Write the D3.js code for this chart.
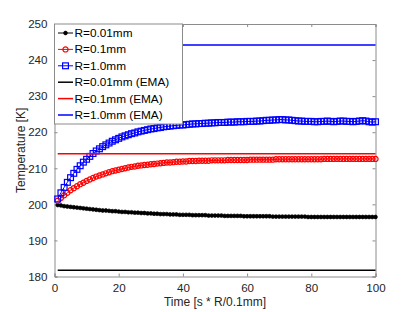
<!DOCTYPE html>
<html>
<head>
<meta charset="utf-8">
<script src="https://cdn.jsdelivr.net/npm/d3@7"></script>
<style>
  body { margin: 0; background: #fff; }
  svg { display: block; font-family: "Liberation Sans", Arial, sans-serif; }
</style>
</head>
<body>
<svg></svg>
<script>
// time steps 1..100
var time = d3.range(1, 101);

var small = [
  199.8,199.7,199.5,199.4,199.3,199.2,199.1,199.0,198.9,198.8,
  198.7,198.6,198.5,198.4,198.3,198.3,198.2,198.1,198.1,198.0,
  197.9,197.9,197.8,197.8,197.7,197.7,197.6,197.6,197.5,197.5,
  197.4,197.4,197.3,197.3,197.3,197.2,197.2,197.2,197.1,197.1,
  197.1,197.1,197.0,197.0,197.0,197.0,197.0,196.9,196.9,196.9,
  196.9,196.9,196.8,196.8,196.8,196.8,196.8,196.8,196.7,196.7,
  196.7,196.7,196.7,196.7,196.7,196.7,196.7,196.6,196.6,196.6,
  196.6,196.6,196.6,196.6,196.6,196.6,196.6,196.6,196.5,196.5,
  196.5,196.5,196.5,196.5,196.5,196.5,196.5,196.5,196.5,196.5,
  196.5,196.5,196.5,196.5,196.5,196.5,196.5,196.5,196.5,196.5
];

var medium = [
  201.0,201.8,202.5,203.2,203.9,204.5,205.0,205.6,206.0,206.5,
  206.9,207.3,207.7,208.0,208.3,208.6,208.9,209.2,209.4,209.6,
  209.8,210.0,210.2,210.4,210.5,210.7,210.8,210.9,211.0,211.1,
  211.2,211.3,211.4,211.5,211.6,211.6,211.7,211.8,211.8,211.9,
  211.9,212.0,212.0,212.0,212.1,212.1,212.1,212.1,212.2,212.2,
  212.2,212.2,212.2,212.3,212.3,212.3,212.3,212.3,212.3,212.3,
  212.4,212.4,212.4,212.4,212.4,212.4,212.4,212.4,212.5,212.5,
  212.5,212.5,212.5,212.5,212.5,212.5,212.5,212.5,212.5,212.5,
  212.5,212.5,212.5,212.6,212.6,212.6,212.6,212.6,212.6,212.6,
  212.6,212.6,212.6,212.6,212.6,212.6,212.6,212.6,212.6,212.6
];

var large = [
  201.5,203.2,204.7,206.1,207.4,208.6,209.7,210.7,211.7,212.5,
  213.3,214.1,214.8,215.4,216.0,216.5,217.0,217.5,217.9,218.3,
  218.7,219.0,219.3,219.6,219.8,220.1,220.3,220.5,220.7,220.9,
  221.0,221.2,221.3,221.5,221.6,221.7,221.8,221.9,222.0,222.0,
  222.1,222.2,222.3,222.3,222.4,222.4,222.5,222.5,222.6,222.6,
  222.7,222.7,222.7,222.8,222.8,222.8,222.9,222.9,222.9,223.0,
  223.0,223.0,223.1,223.1,223.2,223.3,223.3,223.4,223.4,223.5,
  223.5,223.4,223.4,223.3,223.2,223.1,223.1,223.0,223.0,223.0,
  222.9,222.9,223.0,223.0,223.1,223.0,222.9,223.0,223.1,223.1,
  223.0,223.0,222.9,223.0,223.1,223.2,223.1,222.9,222.8,222.9
];

// EMA reference temperatures
var emaValues = [181.7, 214.0, 244.2];
var emaSpan = [1, 100];

var names = ["R=0.01mm", "R=0.1mm", "R=1.0mm",
             "R=0.01mm (EMA)", "R=0.1mm (EMA)", "R=1.0mm (EMA)"];
var colors = ["#000000", "#ff0000", "#0000ff"];
var markers = ["dot", "circle", "square"];

var xTicks = [0, 20, 40, 60, 80, 100];
var yTicks = [180, 190, 200, 210, 220, 230, 240, 250];

var screen = { width: 415, height: 312 };
var margins = { top: 24, bottom: 35.5, left: 54.5, right: 39.5 };
var width = screen.width - margins.left - margins.right;
var height = screen.height - margins.top - margins.bottom;

var xScale = d3.scaleLinear().domain([0, 100]).range([0, width]);
var yScale = d3.scaleLinear().domain([180, 250]).range([height, 0]);

var svg = d3.select("svg")
  .attr("width", screen.width)
  .attr("height", screen.height);

var plot = svg.append("g")
  .attr("transform", "translate(" + margins.left + "," + margins.top + ")");

svg.append("defs").append("clipPath").attr("id", "clip")
  .append("rect").attr("x", -4).attr("y", -4).attr("width", width + 8).attr("height", height + 8);

var axisColor = "#8c8c8c";
var textColor = "#262626";

// axes with inward ticks (box on)
var fmt = d3.format("d");
var bottomAxis = plot.append("g").attr("transform", "translate(0," + height + ")")
  .call(d3.axisBottom(xScale).tickValues(xTicks).tickSize(-3).tickPadding(7).tickFormat(fmt));
var topAxis = plot.append("g")
  .call(d3.axisTop(xScale).tickValues(xTicks).tickSize(-3).tickFormat(""));
var leftAxis = plot.append("g")
  .call(d3.axisLeft(yScale).tickValues(yTicks).tickSize(-3).tickPadding(7).tickFormat(fmt));
var rightAxis = plot.append("g").attr("transform", "translate(" + width + ",0)")
  .call(d3.axisRight(yScale).tickValues(yTicks).tickSize(-3).tickFormat(""));

[bottomAxis, topAxis, leftAxis, rightAxis].forEach(function(a) {
  a.select(".domain").attr("stroke", axisColor);
  a.selectAll(".tick line").attr("stroke", axisColor);
  a.selectAll("text").attr("fill", textColor).style("font-size", "11.6px")
    .style("font-family", "'Liberation Sans', Arial, sans-serif");
});

var data = [small, medium, large];
var lines = plot.append("g").attr("clip-path", "url(#clip)");

var drawMarker = function(sel, kind, color) {
  if (kind == "dot") {
    sel.append("circle").attr("r", 1.9).attr("fill", color).attr("stroke", color).attr("stroke-width", 0.7);
  } else if (kind == "circle") {
    sel.append("circle").attr("r", 2.6).attr("fill", "none").attr("stroke", color).attr("stroke-width", 1.2);
  } else {
    sel.append("rect").attr("x", -2.9).attr("y", -2.9).attr("width", 5.8).attr("height", 5.8)
      .attr("fill", "none").attr("stroke", color).attr("stroke-width", 1.2);
  }
};

var line = d3.line()
  .x(function(d, i) { return xScale(time[i]); })
  .y(function(d) { return yScale(d); });

data.forEach(function(series, k) {
  var g = lines.append("g");
  g.append("path").datum(series)
    .attr("d", line).attr("fill", "none")
    .attr("stroke", colors[k]).attr("stroke-width", 1);
  g.selectAll("g.pt").data(series).enter().append("g")
    .attr("class", "pt")
    .attr("transform", function(d, i) { return "translate(" + xScale(time[i]) + "," + yScale(d) + ")"; })
    .each(function() { drawMarker(d3.select(this), markers[k], colors[k]); });
});

// EMA horizontal lines
emaValues.forEach(function(v, k) {
  lines.append("line")
    .attr("x1", xScale(emaSpan[0])).attr("x2", xScale(emaSpan[1]))
    .attr("y1", yScale(v)).attr("y2", yScale(v))
    .attr("stroke", colors[k]).attr("stroke-width", 1.5);
});

// axis labels
svg.append("text")
  .attr("x", margins.left + width / 2).attr("y", 306)
  .attr("text-anchor", "middle").attr("fill", textColor)
  .style("font-size", "12px")
  .text("Time [s * R/0.1mm]");

svg.append("text")
  .attr("transform", "translate(25," + (margins.top + height / 2) + ") rotate(-90)")
  .attr("text-anchor", "middle").attr("fill", textColor)
  .style("font-size", "12px")
  .text("Temperature [K]");

// legend
var legend = plot.append("g").classed("legend", true);
legend.append("rect")
  .attr("x", 0).attr("y", 0).attr("width", 128).attr("height", 100)
  .attr("fill", "#fff").attr("stroke", axisColor).attr("stroke-width", 1);

var legendLines = legend.selectAll("g.legendLine")
  .data(names).enter().append("g")
  .classed("legendLine", true)
  .attr("transform", function(d, i) { return "translate(0," + (9 + i * 16.4) + ")"; });

legendLines.append("line")
  .attr("x1", 3.5).attr("x2", 18.5).attr("y1", 0).attr("y2", 0)
  .attr("stroke", function(d, i) { return colors[i % 3]; })
  .attr("stroke-width", function(d, i) { return i < 3 ? 1 : 1.5; });

legendLines.each(function(d, i) {
  if (i < 3) {
    var m = d3.select(this).append("g").attr("transform", "translate(11,0)");
    drawMarker(m, markers[i], colors[i]);
  }
});

legendLines.append("text")
  .attr("x", 20).attr("y", 4)
  .attr("fill", "#000")
  .style("font-size", "11.8px")
  .text(function(d) { return d; });
</script>
</body>
</html>
